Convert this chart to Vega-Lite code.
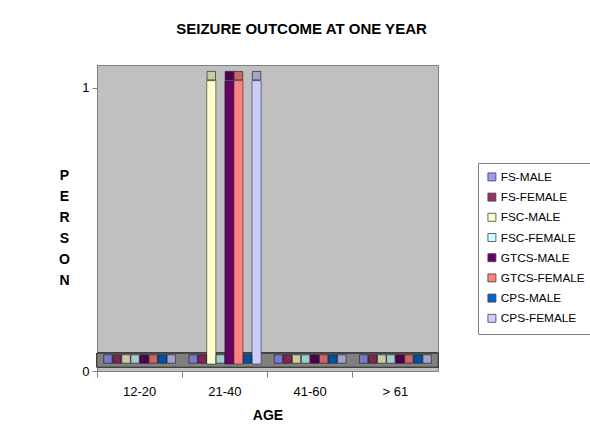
{
  "$schema": "https://vega.github.io/schema/vega-lite/v6.json",
  "width": 341,
  "height": 306,
  "autosize": {"type": "none"},
  "padding": {"left": 97, "top": 65, "right": 152, "bottom": 74},
  "background": "white",
  "config": {
    "font": "Liberation Sans",
    "view": {"fill": "#c0c0c0", "stroke": "#808080", "strokeWidth": 1}
  },
  "title": {
    "text": "SEIZURE OUTCOME AT ONE YEAR",
    "fontSize": 15,
    "fontWeight": "bold",
    "color": "#000000",
    "anchor": "middle",
    "dx": 34,
    "offset": 28
  },
  "data": {
    "values": [
      {"age": "12-20", "series": "FS-MALE", "value": 0},
      {"age": "12-20", "series": "FS-FEMALE", "value": 0},
      {"age": "12-20", "series": "FSC-MALE", "value": 0},
      {"age": "12-20", "series": "FSC-FEMALE", "value": 0},
      {"age": "12-20", "series": "GTCS-MALE", "value": 0},
      {"age": "12-20", "series": "GTCS-FEMALE", "value": 0},
      {"age": "12-20", "series": "CPS-MALE", "value": 0},
      {"age": "12-20", "series": "CPS-FEMALE", "value": 0},
      {"age": "21-40", "series": "FS-MALE", "value": 0},
      {"age": "21-40", "series": "FS-FEMALE", "value": 0},
      {"age": "21-40", "series": "FSC-MALE", "value": 1},
      {"age": "21-40", "series": "FSC-FEMALE", "value": 0},
      {"age": "21-40", "series": "GTCS-MALE", "value": 1},
      {"age": "21-40", "series": "GTCS-FEMALE", "value": 1},
      {"age": "21-40", "series": "CPS-MALE", "value": 0},
      {"age": "21-40", "series": "CPS-FEMALE", "value": 1},
      {"age": "41-60", "series": "FS-MALE", "value": 0},
      {"age": "41-60", "series": "FS-FEMALE", "value": 0},
      {"age": "41-60", "series": "FSC-MALE", "value": 0},
      {"age": "41-60", "series": "FSC-FEMALE", "value": 0},
      {"age": "41-60", "series": "GTCS-MALE", "value": 0},
      {"age": "41-60", "series": "GTCS-FEMALE", "value": 0},
      {"age": "41-60", "series": "CPS-MALE", "value": 0},
      {"age": "41-60", "series": "CPS-FEMALE", "value": 0},
      {"age": "> 61", "series": "FS-MALE", "value": 0},
      {"age": "> 61", "series": "FS-FEMALE", "value": 0},
      {"age": "> 61", "series": "FSC-MALE", "value": 0},
      {"age": "> 61", "series": "FSC-FEMALE", "value": 0},
      {"age": "> 61", "series": "GTCS-MALE", "value": 0},
      {"age": "> 61", "series": "GTCS-FEMALE", "value": 0},
      {"age": "> 61", "series": "CPS-MALE", "value": 0},
      {"age": "> 61", "series": "CPS-FEMALE", "value": 0}
    ]
  },
  "encoding": {
    "x": {
      "field": "age",
      "type": "nominal",
      "sort": ["12-20", "21-40", "41-60", "> 61"],
      "scale": {"paddingInner": 0.15, "paddingOuter": 0.075},
      "axis": {
        "title": "AGE",
        "titleFontSize": 14,
        "titleFontWeight": "bold",
        "titlePadding": 10,
        "labelAngle": 0,
        "labelFontSize": 13,
        "labelPadding": 8,
        "labelColor": "#000000",
        "bandPosition": -0.088,
        "tickColor": "#808080",
        "tickSize": 6,
        "domainColor": "#808080"
      }
    },
    "xOffset": {
      "field": "series",
      "type": "nominal",
      "sort": ["FS-MALE", "FS-FEMALE", "FSC-MALE", "FSC-FEMALE", "GTCS-MALE", "GTCS-FEMALE", "CPS-MALE", "CPS-FEMALE"],
      "scale": {"paddingInner": 0, "paddingOuter": 0}
    }
  },
  "layer": [
    {
      "mark": {"type": "rect", "fill": "#808080", "stroke": "#404040", "strokeWidth": 0.8},
      "encoding": {
        "x": null,
        "xOffset": null,
        "y": {"datum": 0.014, "type": "quantitative"},
        "y2": {"datum": 0.062}
      }
    },
    {
      "transform": [{"filter": "datum.value > 0"}],
      "mark": {"type": "bar", "yOffset": -7, "y2Offset": -7, "stroke": "#202020", "strokeWidth": 0.8, "strokeOpacity": 0.7},
      "encoding": {
        "y": {
          "field": "value",
          "type": "quantitative",
          "scale": {"domain": [0, 1.08], "nice": false},
          "axis": {
            "values": [0, 1],
            "format": "d",
            "grid": false,
            "title": ["P", "E", "R", "S", "O", "N"],
            "titleAngle": 0,
            "titleAlign": "center",
            "titleBaseline": "top",
            "titleX": -33,
            "titleY": 103,
            "titleLineHeight": 21,
            "titleFontSize": 14,
            "titleFontWeight": "bold",
            "labelFontSize": 13,
            "labelColor": "#000000",
            "labelPadding": 3,
            "tickColor": "#808080",
            "tickSize": 5,
            "domainColor": "#808080"
          }
        },
        "y2": {"datum": 0},
        "color": {
          "field": "series",
          "type": "nominal",
          "sort": ["FS-MALE", "FS-FEMALE", "FSC-MALE", "FSC-FEMALE", "GTCS-MALE", "GTCS-FEMALE", "CPS-MALE", "CPS-FEMALE"],
          "scale": {
            "domain": ["FS-MALE", "FS-FEMALE", "FSC-MALE", "FSC-FEMALE", "GTCS-MALE", "GTCS-FEMALE", "CPS-MALE", "CPS-FEMALE"],
            "range": ["#9999FF", "#993366", "#FFFFCC", "#CCFFFF", "#660066", "#FF8080", "#0066CC", "#CCCCFF"]
          },
          "legend": {
            "orient": "none",
            "legendX": 381,
            "legendY": 98,
            "title": null,
            "symbolType": "square",
            "symbolSize": 64,
            "symbolStrokeColor": "#404040",
            "symbolStrokeWidth": 0.8,
            "labelFontSize": 11.8,
            "labelColor": "#000000",
            "rowPadding": 7.2,
            "padding": 8,
            "strokeColor": "#808080",
            "fillColor": "#ffffff",
            "labelOffset": 3
          }
        }
      }
    },
    {
      "mark": {"type": "point", "shape": "square", "filled": true, "size": 72, "yOffset": -12, "stroke": "#202020", "strokeWidth": 0.8, "strokeOpacity": 0.8, "opacity": 1},
      "encoding": {
        "y": {"field": "value", "type": "quantitative"},
        "color": {"field": "series", "type": "nominal", "legend": null}
      }
    },
    {
      "mark": {"type": "point", "shape": "square", "filled": true, "size": 72, "yOffset": -12, "color": "#000000", "opacity": 0.2},
      "encoding": {
        "y": {"field": "value", "type": "quantitative"}
      }
    }
  ]
}
